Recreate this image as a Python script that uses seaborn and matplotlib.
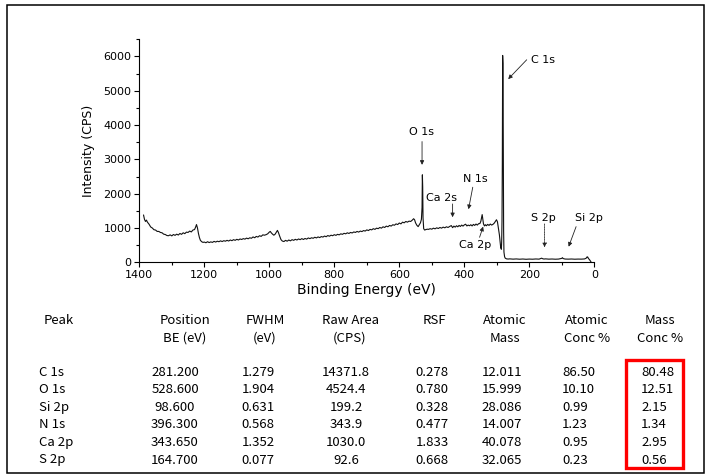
import matplotlib
matplotlib.use('Agg')
import matplotlib.pyplot as plt
import seaborn as sns
import pandas as pd
from matplotlib.ticker import MultipleLocator
from matplotlib.patches import Rectangle

# survey spectrum (binding energy eV, counts per second)
binding_energy = [
    1387, 1384, 1381, 1378, 1375, 1370, 1365, 1360, 1355, 1350, 1345, 1340, 1335, 1330,
    1325, 1320, 1315, 1310, 1305, 1300, 1295, 1290, 1285, 1280, 1275, 1270, 1265, 1260,
    1255, 1250, 1245, 1240, 1235, 1230, 1227, 1224, 1221, 1218, 1215, 1212, 1208, 1204,
    1200, 1195, 1190, 1185, 1180, 1175, 1170, 1165, 1160, 1155, 1150, 1145, 1140, 1135,
    1130, 1125, 1120, 1115, 1110, 1105, 1100, 1095, 1090, 1085, 1080, 1075, 1070, 1065,
    1060, 1055, 1050, 1045, 1040, 1035, 1030, 1025, 1020, 1015, 1010, 1005, 1000, 997,
    994, 990, 986, 982, 978, 975, 972, 968, 964, 960, 955, 950, 945, 940, 935, 930, 925,
    920, 915, 910, 905, 900, 895, 890, 885, 880, 875, 870, 865, 860, 855, 850, 845, 840,
    835, 830, 825, 820, 815, 810, 805, 800, 795, 790, 785, 780, 775, 770, 765, 760, 755,
    750, 745, 740, 735, 730, 725, 720, 715, 710, 705, 700, 695, 690, 685, 680, 675, 670,
    665, 660, 655, 650, 645, 640, 635, 630, 625, 620, 615, 610, 605,
    600, 595, 590, 585, 580, 575, 570, 565, 560, 556, 553, 550, 546, 542, 538, 535, 532,
    530, 529, 528, 527, 525, 522, 518, 514, 510, 505, 500, 495, 490, 485, 480, 475, 470,
    465, 460, 455, 450, 445, 440, 436, 432, 428, 424, 420, 416, 412, 408, 404, 400, 396,
    392, 388, 384, 380, 376, 372, 368, 364, 360, 356, 352, 349, 347, 345, 343, 341, 338,
    335, 332, 328, 324, 320, 316, 312, 308, 304, 301, 298, 295, 292, 290, 288, 286, 285,
    284, 283, 282, 281, 280, 279, 278, 276, 274, 270, 265, 260, 250, 240, 230, 220, 210,
    200, 190, 180, 170, 165, 162, 159, 155, 150, 140, 130, 120, 110, 100, 98, 96, 90, 80,
    70, 60, 50, 40, 30, 25, 22, 20, 18, 15, 12, 10,
]
intensity = [
    1380, 1250, 1190, 1230, 1170, 1110, 1030, 1000, 950, 940, 900, 900, 870, 860,
    820, 810, 780, 775, 800, 770, 810, 785, 820, 795, 840, 815, 860, 835,
    880, 870, 910, 885, 940, 955, 1020, 1100, 1000, 840, 720, 640, 600, 580,
    590, 570, 600, 575, 595, 580, 610, 590, 615, 600, 625, 605, 630, 615,
    640, 620, 650, 630, 660, 640, 670, 650, 680, 665, 690, 675, 705, 685,
    715, 700, 740, 715, 755, 735, 775, 755, 800, 790, 805, 830, 880, 900,
    860, 820, 790, 820, 880, 930, 870, 760, 660, 620, 605, 640, 615, 650, 625, 660, 640,
    670, 650, 680, 660, 690, 665, 695, 675, 710, 690, 715, 700, 730, 710, 740, 720, 750,
    735, 765, 745, 780, 760, 790, 775, 805, 785, 815, 800, 830, 815, 845, 830, 860, 840,
    870, 855, 885, 870, 900, 880, 910, 895, 925, 910, 945, 925, 960, 945, 980, 960, 995,
    980, 1015, 995, 1035, 1015, 1055, 1035, 1075, 1055, 1095, 1080, 1120, 1100,
    1145, 1120, 1170, 1150, 1190, 1170, 1200, 1190, 1230, 1270, 1240, 1150, 1080, 1040, 1100, 1150, 1250,
    1600, 2550, 2200, 1300, 980, 940, 955, 965, 960, 980, 965, 995, 975, 1005, 985, 1015, 995,
    1025, 1005, 1035, 1015, 1045, 1070, 1010, 1055, 1025, 1065, 1035, 1075, 1045, 1085, 1055, 1090, 1110,
    1060, 1085, 1065, 1095, 1060, 1105, 1075, 1115, 1085, 1125, 1130, 1200, 1300, 1390, 1250, 1120, 1060,
    1095, 1065, 1105, 1075, 1115, 1085, 1105, 1140, 1200, 1240, 1180, 1000, 800, 600, 430, 380, 600,
    1200, 2900, 6030, 5800, 3000, 900, 300, 160, 120, 100, 95, 100, 92, 98, 90, 96, 88,
    94, 90, 97, 92, 110, 120, 105, 95, 100, 92, 96, 90, 94, 115, 135, 110, 95, 92,
    96, 90, 94, 92, 98, 120, 160, 150, 110, 80, 40, 10,
]

# peak labels: text position, arrow tail, arrow head (eV, CPS)
peak_labels = ['C 1s', 'O 1s', 'N 1s', 'Ca 2s', 'Ca 2p', 'S 2p', 'Si 2p']
label_xy = [(196, 5900), (533, 3811), (366, 2422), (470, 1867), (366, 505), (158, 1284), (15, 1284)]
arrow_tail = [(208, 5903), (530, 3519), (374, 2188), (436, 1701), (353, 729), (153, 1118), (56, 1039)]
arrow_head = [(265, 5340), (530, 2840), (387, 1547), (436, 1313), (342, 1039), (153, 438), (79, 455)]

# quantification table
peaks = ['C 1s', 'O 1s', 'Si 2p', 'N 1s', 'Ca 2p', 'S 2p']
position_be = [281.200, 528.600, 98.600, 396.300, 343.650, 164.700]
fwhm = [1.279, 1.904, 0.631, 0.568, 1.352, 0.077]
raw_area = [14371.8, 4524.4, 199.2, 343.9, 1030.0, 92.6]
rsf = [0.278, 0.780, 0.328, 0.477, 1.833, 0.668]
atomic_mass = [12.011, 15.999, 28.086, 14.007, 40.078, 32.065]
atomic_conc = [86.50, 10.10, 0.99, 1.23, 0.95, 0.23]
mass_conc = [80.48, 12.51, 2.15, 1.34, 2.95, 0.56]

W, H = 712, 476


def px(x, y):
    return x / W, 1 - y / H


sns.set_style('ticks')
plt.rcParams['font.family'] = ['DejaVu Sans']
plt.rcParams.update({'text.color': 'k', 'axes.labelcolor': 'k',
                     'xtick.color': 'k', 'ytick.color': 'k'})

fig = plt.figure(figsize=(W / 100, H / 100), dpi=100)
ax = fig.add_axes([139.3 / W, 1 - 262.3 / H, 455 / W, 223 / H])

df = pd.DataFrame({'be': binding_energy, 'cps': intensity})
sns.lineplot(data=df, x='be', y='cps', sort=False, estimator=None,
             color='#111111', linewidth=0.8, ax=ax)

ax.set_xlim(1400, 0)
ax.set_ylim(0, 6500)
ax.xaxis.set_major_locator(MultipleLocator(200))
ax.xaxis.set_minor_locator(MultipleLocator(100))
ax.yaxis.set_major_locator(MultipleLocator(1000))
ax.yaxis.set_minor_locator(MultipleLocator(500))
ax.tick_params(which='major', length=3.5, width=0.8, labelsize=8, color='k', pad=2)
ax.tick_params(which='minor', length=2, width=0.8, color='k')
sns.despine(ax=ax)
for s in ['left', 'bottom']:
    ax.spines[s].set_linewidth(0.8)
    ax.spines[s].set_color('k')
ax.set_xlabel('Binding Energy (eV)', fontsize=10, labelpad=2)
ax.set_ylabel('Intensity (CPS)', fontsize=9, labelpad=6)

for i, lab in enumerate(peak_labels):
    ls = (0, (1, 1)) if lab == 'S 2p' else '-'
    ax.annotate('', xy=arrow_head[i], xytext=arrow_tail[i],
                arrowprops=dict(arrowstyle='-|>', lw=0.6, color='#222222',
                                mutation_scale=6, linestyle=ls, shrinkA=0, shrinkB=0))
    ha = 'left' if lab == 'C 1s' else 'center'
    ax.text(label_xy[i][0], label_xy[i][1], lab, fontsize=8, ha=ha, va='center')

# table under the plot
tfont = ['Noto Sans CJK KR', 'DejaVu Sans']
fs = 9.5
headers = [
    (['Peak'], 44, 'left'),
    (['Position', 'BE (eV)'], 185, 'center'),
    (['FWHM', '(eV)'], 265, 'center'),
    (['Raw Area', '(CPS)'], 350, 'center'),
    (['RSF'], 434, 'center'),
    (['Atomic', 'Mass'], 505, 'center'),
    (['Atomic', 'Conc %'], 587, 'center'),
    (['Mass', 'Conc %'], 660, 'center'),
]
for lines, x, ha in headers:
    for j, line in enumerate(lines):
        fig.text(*px(x, 320 + 18 * j), line, family=tfont, fontsize=fs, ha=ha, va='center')

columns = [
    (peaks, '{}', 39, 'left'),
    (position_be, '{:.3f}', 175, 'center'),
    (fwhm, '{:.3f}', 258, 'center'),
    (raw_area, '{:.1f}', 346, 'center'),
    (rsf, '{:.3f}', 432, 'center'),
    (atomic_mass, '{:.3f}', 502, 'center'),
    (atomic_conc, '{:.2f}', 562, 'left'),
    (mass_conc, '{:.2f}', 641, 'left'),
]
for vals, fmt, x, ha in columns:
    for r, v in enumerate(vals):
        fig.text(*px(x, 372 + 17.6 * r), fmt.format(v), family=tfont, fontsize=fs,
                 ha=ha, va='center')

# red highlight around the mass concentration column
fig.patches.append(Rectangle(px(626, 468), 57 / W, 108 / H, transform=fig.transFigure,
                             fill=False, edgecolor='#ff0000', linewidth=2.4))
# outer frame
fig.patches.append(Rectangle(px(7, 472.5), 697 / W, 468 / H, transform=fig.transFigure,
                             fill=False, edgecolor='k', linewidth=1.1))

fig.savefig('out.png', dpi=100)
